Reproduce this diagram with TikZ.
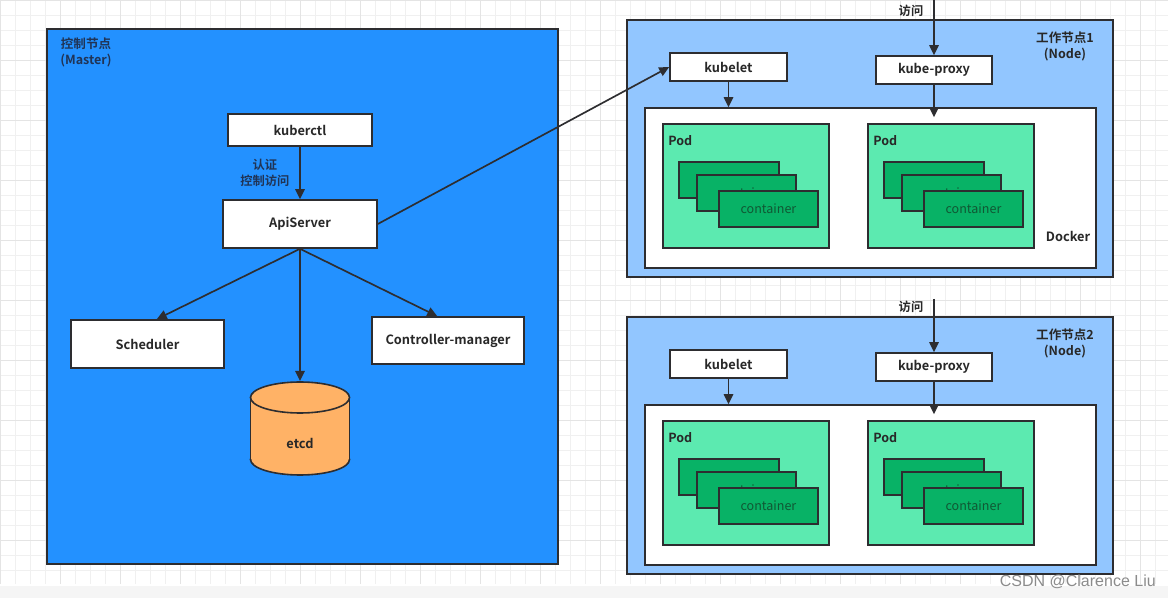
\documentclass[tikz,border=0pt]{standalone}
\usepackage{fontspec}
\setmainfont{Noto Sans CJK SC}[BoldFont=* Bold]
\newfontfamily\wmfont{Liberation Sans}
\usetikzlibrary{arrows.meta,fit,calc}
\definecolor{masterc}{RGB}{35,145,255}
\definecolor{workerc}{RGB}{146,198,255}
\definecolor{podc}{RGB}{92,234,176}
\definecolor{contc}{RGB}{8,178,102}
\definecolor{conttxt}{RGB}{16,88,52}
\definecolor{etcdc}{RGB}{255,178,102}
\definecolor{linec}{RGB}{45,45,48}
\definecolor{txtc}{RGB}{40,40,40}
\definecolor{titlec}{RGB}{32,52,86}
\definecolor{gridc}{RGB}{240,240,240}
\definecolor{gridm}{RGB}{228,228,228}
\tikzset{
  frame/.style={draw=linec, line width=1.2pt, inner sep=0pt},
  boxfont/.style={inner sep=0pt, font=\bfseries\fontsize{9.6}{11}\selectfont, text=txtc},
  whitebox/.style={frame, fill=white, label={[boxfont]center:#1}},
  podbox/.style={frame, fill=podc},
  contbox/.style={frame, fill=contc},
  contlbl/.style={frame, fill=contc, label={[inner sep=0pt, font=\fontsize{9.4}{10}\selectfont, text=conttxt]center:container}},
  podlabel/.style={anchor=west, inner sep=0pt, font=\bfseries\fontsize{9.4}{11}\selectfont, text=txtc},
  ttl/.style={align=center, inner sep=0pt, font=\bfseries\fontsize{9.4}{12}\selectfont},
  conn/.style={draw=linec, line width=1.25pt, -{Triangle[length=7.5pt,width=7pt]}},
}
\begin{document}
\begin{tikzpicture}[x=0.75pt,y=-0.75pt]
\useasboundingbox (0,0) rectangle (1168,598);
\fill[white] (0,0) rectangle (1168,598);
% background grid
\foreach \i in {0,15,...,1168} \draw[gridc, line width=0.5pt] (\i,0) -- (\i,584);
\foreach \j in {0,15,...,584} \draw[gridc, line width=0.5pt] (0,\j) -- (1168,\j);
\foreach \i in {0,60,...,1168} \draw[gridm, line width=0.5pt] (\i,0) -- (\i,584);
\foreach \j in {0,60,...,584} \draw[gridm, line width=0.5pt] (0,\j) -- (1168,\j);
\fill[black!4] (0,586) rectangle (1168,598);

% ---------------- Master ----------------
\node[frame, fill=masterc, fit={(47,29)(558,564)}] (master) {};
\node[ttl, text=titlec] (mtitle) at (86,52) {控制节点\\(Master)};
\node[whitebox=kuberctl, fit={(228,114)(372,146)}] (kctl) {};
\node[whitebox=ApiServer, fit={(223,200)(377,248)}] (api) {};
\node[whitebox=Scheduler, fit={(71,320)(224,368)}] (sched) {};
\node[whitebox=Controller-manager, fit={(372,317)(524,364)}] (ctrl) {};
% etcd cylinder
\filldraw[fill=etcdc, draw=linec, line width=1.2pt] (300,459.5) ellipse (49.5 and 15.5);
\fill[etcdc] (250.5,397.5) rectangle (349.5,459.5);
\draw[linec, line width=1.2pt] (250.5,397.5) -- (250.5,459.5) (349.5,397.5) -- (349.5,459.5);
\filldraw[fill=etcdc, draw=linec, line width=1.2pt] (300,397.5) ellipse (49.5 and 15.5);
\node[boxfont] (etcd) at (300,443) {etcd};
\coordinate (etcdtop) at (300,381);

\draw[conn] (kctl.south) -- node[left=4pt, align=center, text=titlec, font=\bfseries\fontsize{9.2}{12.5}\selectfont] (authlbl) {认证\\控制访问} (api.north);
\draw[conn] (api.south) -- ($(sched.north west)!0.56!(sched.north east)$);
\draw[conn] (api.south) -- (etcdtop);
\draw[conn] (api.south) -- ($(ctrl.north west)!0.43!(ctrl.north east)$);

% ---------------- Workers ----------------
\foreach \n/\dy in {1/0,2/297}{
  \node[frame, fill=workerc, fit={(627,20+\dy)(1113,277+\dy)}] (w\n) {};
  \node[frame, fill=white, fit={(645,108+\dy)(1096,268+\dy)}] (dock\n) {};
  \node[whitebox=kubelet, fit={(670,53+\dy)(787,81+\dy)}] (kl\n) {};
  \node[whitebox=kube-proxy, fit={(876,56+\dy)(992,84+\dy)}] (kp\n) {};
  \node[ttl, text=txtc] (wt\n) at (1065,46+\dy) {工作节点\n\\(Node)};
  % pods
  \foreach \p/\dx in {a/0,b/205}{
    \node[podbox, fit={(663+\dx,124+\dy)(829+\dx,248+\dy)}] (pod\n\p) {};
    \node[podlabel] (podl\n\p) at (668+\dx,141+\dy) {Pod};
    \node[contbox, fit={(679+\dx,162+\dy)(779+\dx,198+\dy)}] (c\n\p1) {};
    \node[contlbl, fit={(697+\dx,175+\dy)(796+\dx,211+\dy)}] (c\n\p2) {};
    \node[contlbl, fit={(719+\dx,191+\dy)(818+\dx,227+\dy)}] (c\n\p3) {};
  }
  \draw[conn] (kl\n.south) -- (kl\n.south |- dock\n.north);
  \coordinate (kpin\n) at ($(kp\n.south |- dock\n.north)+(0,10)$);
  \draw[conn] (kp\n.south) -- (kpin\n);
}
\node[boxfont] (docklbl) at (1068,236) {Docker};

% access arrows
\coordinate (acc1) at (934,0);
\coordinate (acc2) at (934,299);
\draw[conn] (acc1) -- (kp1.north);
\draw[conn] (acc2) -- (kp2.north);
\node[inner sep=0pt, font=\bfseries\fontsize{9.2}{11}\selectfont, text=txtc] (acclbl1) at (911,11) {访问};
\node[inner sep=0pt, font=\bfseries\fontsize{9.2}{11}\selectfont, text=txtc] (acclbl2) at (911,307) {访问};

% api -> kubelet
\draw[conn] (api.east) -- (kl1.west);

% watermark
\node[anchor=east, inner sep=0pt, font=\wmfont\fontsize{12}{14}\selectfont, text=black!45] (wm) at (1156,582) {CSDN @Clarence Liu};
\end{tikzpicture}
\end{document}
